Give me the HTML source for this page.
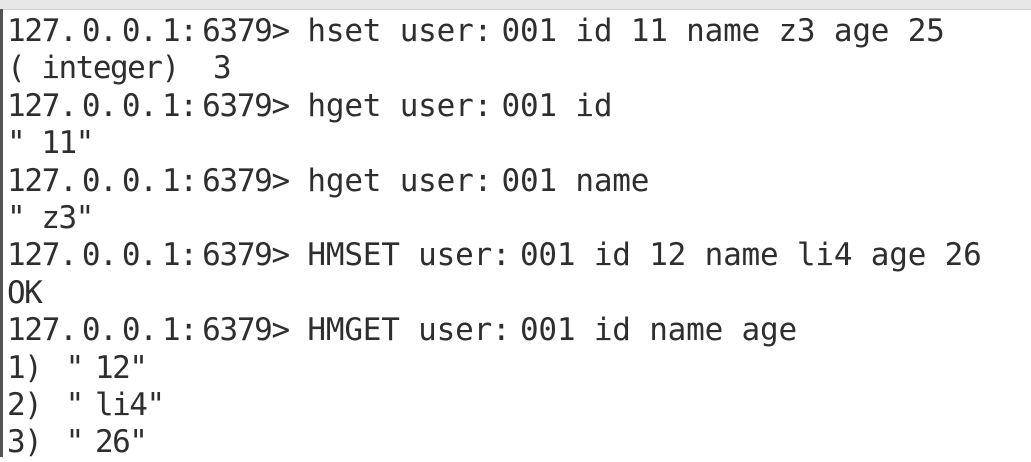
<!DOCTYPE html>
<html><head><meta charset="utf-8"><style>
html,body{margin:0;padding:0;width:1031px;height:457px;overflow:hidden;background:#fff;}
.top{position:absolute;left:0;top:0;width:1031px;height:9px;background:#e6e6e6;border-bottom:1px solid #d0d0d0;}
.left{position:absolute;left:0;top:9px;width:3px;height:448px;background:#555;}
.t{position:absolute;left:7px;top:13px;font-family:"DejaVu Sans Mono","Liberation Mono",monospace;font-size:31px;line-height:37.4px;color:#2e2e2e;white-space:pre;letter-spacing:-0.2px;}
.p{letter-spacing:-1.3px;word-spacing:-12px;}
.u{word-spacing:-9px;}
.q{letter-spacing:-1.5px;}
.r{letter-spacing:-1.5px;word-spacing:-5px;}
</style></head><body>
<div class="top"></div><div class="left"></div>
<div class="t"><span class="p">127. 0. 0. 1: 6379></span> hset <span class="u">user: 001</span> id 11 name z3 age 25
<span class="q">( integer)  3</span>
<span class="p">127. 0. 0. 1: 6379></span> hget <span class="u">user: 001</span> id
<span class="q">" 11"</span>
<span class="p">127. 0. 0. 1: 6379></span> hget <span class="u">user: 001</span> name
<span class="q">" z3"</span>
<span class="p">127. 0. 0. 1: 6379></span> HMSET <span class="u">user: 001</span> id 12 name li4 age 26
<span class="q">OK</span>
<span class="p">127. 0. 0. 1: 6379></span> HMGET <span class="u">user: 001</span> id name age
<span class="r">1)  " 12"</span>
<span class="r">2)  " li4"</span>
<span class="r">3)  " 26"</span></div>
</body></html>
